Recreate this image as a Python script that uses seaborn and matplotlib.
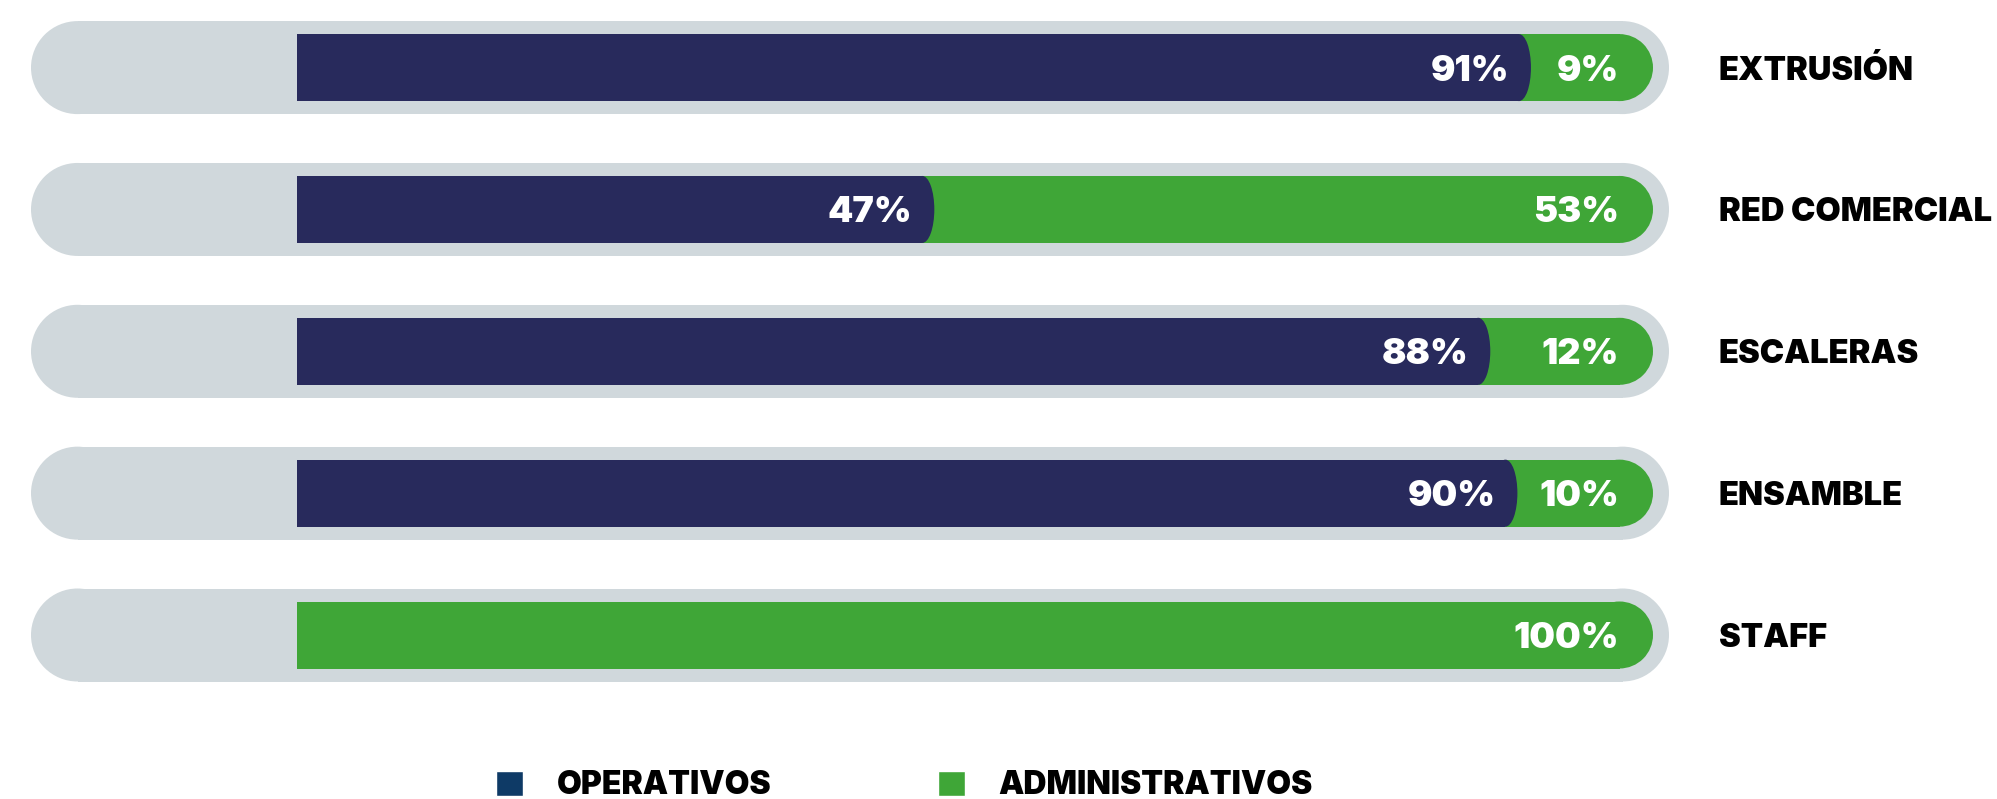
import matplotlib
matplotlib.use("Agg")
import matplotlib.pyplot as plt
from matplotlib.patches import Ellipse, Patch
import seaborn as sns
import pandas as pd

# datos del gráfico
areas = ["EXTRUSIÓN", "RED COMERCIAL", "ESCALERAS", "ENSAMBLE", "STAFF"]
operativos = [91, 47, 88, 90, 0]
administrativos = [9, 53, 12, 10, 100]
legend_labels = ["OPERATIVOS", "ADMINISTRATIVOS"]

# colores
navy = "#282a5c"
green = "#3fa637"
track_gray = "#d0d8dc"
legend_blue = "#0e3a66"

sns.set_theme(style="white")
FONT = ["Inter", "Lato", "DejaVu Sans"]
plt.rcParams["font.family"] = FONT

df = pd.DataFrame({"area": areas, "operativos": operativos, "administrativos": administrativos})
df["total"] = df["operativos"] + df["administrativos"]

W, H = 1997, 799
fig = plt.figure(figsize=(W / 100, H / 100), dpi=100)
ax = fig.add_axes([0, 0, 1, 1])

PX = 13.56      # píxeles por punto porcentual
ROW = 141.85    # píxeles entre filas
X0 = 297        # píxel donde empieza el 0 %
Y0 = 67.6       # centro de la primera fila
bar_h = 67 / ROW
n = len(areas)

sns.barplot(data=df, x="total", y="area", color=green, width=bar_h,
            saturation=1, linewidth=0, ax=ax, zorder=3)
sns.barplot(data=df, x="operativos", y="area", color=navy, width=bar_h,
            saturation=1, linewidth=0, ax=ax, zorder=4)


def round_end(rect, cap_px, z):
    # recorta la barra y le pone un extremo redondeado (elipse)
    x, y, w, h = rect.get_x(), rect.get_y(), rect.get_width(), rect.get_height()
    if w <= 0:
        return
    rx = cap_px / PX
    rect.set_width(w - rx)
    ax.add_patch(Ellipse((x + w - rx, y + h / 2), 2 * rx, h, facecolor=rect.get_facecolor(),
                         edgecolor="none", zorder=z))


bars = list(ax.patches)
for rect in bars[:n]:
    round_end(rect, 33.5, 3)
for rect in bars[n:2 * n]:
    round_end(rect, 12, 4)

# pista gris de fondo
track_h = 93 / ROW
r_track = 46.5 / PX
for i in range(n):
    left = -266 / PX
    right = df["total"][i] + 16 / PX
    ax.barh(i, right - left - 2 * r_track, left=left + r_track, height=track_h,
            color=track_gray, linewidth=0, zorder=1)
    ax.add_patch(Ellipse((left + r_track, i), 2 * r_track, track_h, facecolor=track_gray,
                         edgecolor="none", zorder=1))
    ax.add_patch(Ellipse((right - r_track, i), 2 * r_track, track_h, facecolor=track_gray,
                         edgecolor="none", zorder=1))

# etiquetas
for i in range(n):
    op = df["operativos"][i]
    ad = df["administrativos"][i]
    if op > 0:
        ax.text(op - 22 / PX, i + 13 / ROW, f"{op}%", ha="right", va="baseline",
                color="white", fontsize=26, fontweight="black", zorder=6)
    ax.text(df["total"][i] - 34 / PX, i + 13 / ROW, f"{ad}%", ha="right", va="baseline",
            color="white", fontsize=26, fontweight="black", zorder=6)
    ax.text(1422 / PX, i + 12 / ROW, areas[i], ha="left", va="baseline",
            color="black", fontsize=23.5, fontweight="black")

ax.set_xlim(-X0 / PX, (W - X0) / PX)
ax.set_ylim((H - Y0) / ROW, -Y0 / ROW)
ax.axis("off")

handles = [Patch(facecolor=legend_blue, label=legend_labels[0]),
           Patch(facecolor=green, label=legend_labels[1])]
fs = 23
fs_px = fs / 72 * 100
fig.legend(handles=handles, loc="center left", bbox_to_anchor=(496 / W, 1 - 786 / H),
           ncol=2, frameon=False, borderpad=0, borderaxespad=0,
           handlelength=27 / fs_px, handleheight=27 / fs_px,
           handletextpad=34 / fs_px, columnspacing=166 / fs_px, labelcolor="black",
           prop=dict(family=FONT, weight="black", size=fs))

fig.savefig("out.png", dpi=100)
